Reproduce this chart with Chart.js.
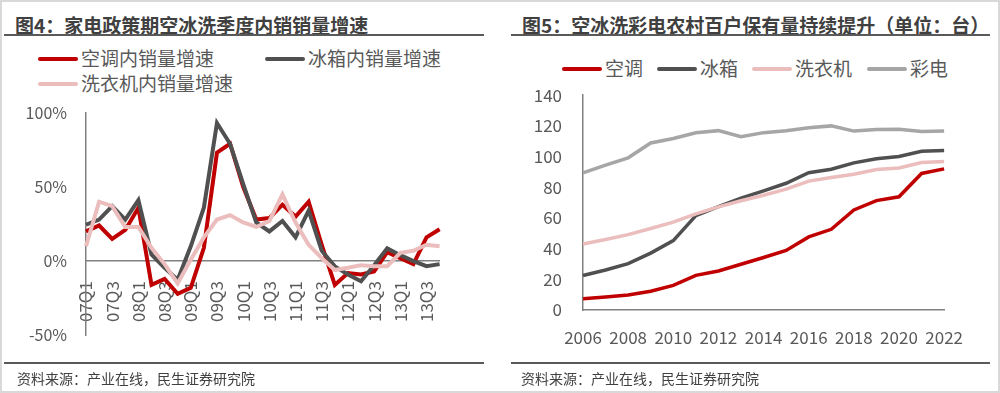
<!DOCTYPE html>
<html>
<head>
<meta charset="utf-8">
<script src="https://cdn.jsdelivr.net/npm/chart.js@4.4.1/dist/chart.umd.min.js"></script>
<style>
  html, body { margin:0; padding:0; }
  body { width:1000px; height:393px; position:relative; background:#fff; overflow:hidden;
         font-family:"Noto Sans CJK SC","Noto Sans",sans-serif; }
  .frame { position:absolute; left:0; top:0; width:996px; height:389px; border:2px solid #d9d9d9; }
  .title { position:absolute; top:12px; font-size:19px; font-weight:bold; color:#404040; white-space:nowrap; line-height:26px; }
  .rule { position:absolute; height:2px; background:#595959; }
  .leg { position:absolute; font-size:19px; color:#595959; white-space:nowrap; line-height:24px; }
  .leg i { display:inline-block; width:40px; height:4px; border-radius:2px; vertical-align:middle; margin-right:3px; position:relative; top:-2px; }
  .src { position:absolute; top:368px; font-size:14px; color:#404040; white-space:nowrap; line-height:20px; }
  canvas { position:absolute; }
</style>
</head>
<body>
<div class="frame"></div>

<div class="title" style="left:15px">图4：家电政策期空冰洗季度内销销量增速</div>
<div class="rule" style="left:4px;width:480px;top:34px"></div>
<div class="leg" style="left:38px;top:46px"><i style="background:#C00000"></i>空调内销量增速</div>
<div class="leg" style="left:265px;top:46px"><i style="background:#505050"></i>冰箱内销量增速</div>
<div class="leg" style="left:38px;top:71px"><i style="background:#EBBDBD"></i>洗衣机内销量增速</div>
<canvas id="c1" width="480" height="280" style="left:0;top:84px"></canvas>
<div class="rule" style="left:4px;width:480px;top:362px"></div>
<div class="src" style="left:17px">资料来源：产业在线，民生证券研究院</div>

<div class="title" style="left:522px">图5：空冰洗彩电农村百户保有量持续提升（单位：台）</div>
<div class="rule" style="left:511px;width:479px;top:34px"></div>
<div class="leg" style="left:562px;top:56px"><i style="background:#C00000"></i>空调</div>
<div class="leg" style="left:657px;top:56px"><i style="background:#505050"></i>冰箱</div>
<div class="leg" style="left:752px;top:56px"><i style="background:#EBBDBD"></i>洗衣机</div>
<div class="leg" style="left:867px;top:56px"><i style="background:#A6A6A6"></i>彩电</div>
<canvas id="c2" width="480" height="291" style="left:500px;top:64px"></canvas>
<div class="rule" style="left:511px;width:479px;top:362px"></div>
<div class="src" style="left:521px">资料来源：产业在线，民生证券研究院</div>

<script>
// ---- 图4 数据：季度内销量同比增速 (%) ----
const quarters = ["07Q1","07Q2","07Q3","07Q4","08Q1","08Q2","08Q3","08Q4",
                  "09Q1","09Q2","09Q3","09Q4","10Q1","10Q2","10Q3","10Q4",
                  "11Q1","11Q2","11Q3","11Q4","12Q1","12Q2","12Q3","12Q4",
                  "13Q1","13Q2","13Q3","13Q4"];
const acGrowth     = [20,24,15,21,36,-16,-12,-22,-18,9,73,79,50,28,29,38,30,40,11,-16,-8,-9,-7,6,2,-2,16,21.5];
const fridgeGrowth = [24.5,28,37,28,41,4.5,-4.5,-12.5,10,36,93,79,52,26,20,27,16,34,7,-3.5,-9,-13.5,-2.7,8.6,4,0,-3.4,-2];
const washerGrowth = [10,40,37,23,23,9,-2,-15,1,16,28,31,26,23,27,45,26,11,2,-6,-4.5,-2.7,-3.4,-3.4,5.6,7,11,10];
const pctTicks = [-50,0,50,100];

// ---- 图5 数据：农村居民每百户保有量 (台) ----
const years    = ["2006","2007","2008","2009","2010","2011","2012","2013","2014","2015","2016","2017","2018","2019","2020","2021","2022"];
const acOwn     = [7.3,8.5,9.8,12.2,16.0,22.6,25.4,29.8,34.2,38.8,47.6,52.6,65.2,71.3,73.8,89.0,92.0];
const fridgeOwn = [22.5,26.1,30.2,37.1,45.2,61.5,67.3,72.9,77.6,82.6,89.5,91.7,95.9,98.6,100.1,103.5,103.9];
const washerOwn = [43.0,45.9,49.1,53.1,57.3,62.6,67.2,71.2,74.8,78.8,84.0,86.3,88.5,91.6,92.6,96.1,96.8];
const tvOwn     = [89.4,94.4,99.2,108.9,111.8,115.5,116.9,112.9,115.6,116.9,118.8,120.0,116.6,117.6,117.8,116.4,116.6];

const RED = "#C00000", DARK = "#505050", PINK = "#EBBDBD", GREY = "#A6A6A6";
const AXIS = "#808080", TXT = "#595959";
const FONT = '"Noto Sans CJK SC", "Noto Sans", sans-serif';

function line(data, color, w){
  return { data, borderColor: color, backgroundColor: color, borderWidth: w,
           pointRadius: 0, tension: 0, fill: false };
}

// 图4  (y 轴标签的 padding 会撑开上下留白，画布已按此放大)
new Chart(document.getElementById("c1"), {
  type: "line",
  data: {
    labels: quarters,
    datasets: [
      line(washerGrowth, PINK, 4),
      line(fridgeGrowth, DARK, 4),
      line(acGrowth, RED, 4)
    ]
  },
  options: {
    responsive: false, animation: false,
    layout: { padding: { top: 0, bottom: 0, right: 27, left: 0 } },
    plugins: { legend: { display: false }, tooltip: { enabled: false } },
    scales: {
      x: {
        position: { y: 0 },
        grid: { display: false, drawTicks: false },
        border: { display: true, color: AXIS, width: 1.5 },
        ticks: {
          autoSkip: false, minRotation: 90, maxRotation: 90, padding: 20,
          color: TXT, font: { family: FONT, size: 17 },
          callback: (v, i) => i % 2 === 0 ? quarters[i] : ""
        }
      },
      y: {
        min: -50, max: 100,
        afterFit: s => { s.width = 86; },
        afterBuildTicks: s => { s.ticks = pctTicks.map(v => ({ value: v })); },
        grid: { display: false, drawTicks: false },
        border: { display: true, color: AXIS, width: 1.5 },
        ticks: { padding: 19, color: TXT, font: { family: FONT, size: 16 }, callback: v => v + "%" }
      }
    }
  }
});

// 图5
new Chart(document.getElementById("c2"), {
  type: "line",
  data: {
    labels: years,
    datasets: [
      line(tvOwn, GREY, 3.5),
      line(washerOwn, PINK, 3.5),
      line(fridgeOwn, DARK, 3.5),
      line(acOwn, RED, 3.5)
    ]
  },
  options: {
    responsive: false, animation: false,
    layout: { padding: { top: 0, bottom: 0, right: 28, left: 0 } },
    plugins: { legend: { display: false }, tooltip: { enabled: false } },
    scales: {
      x: {
        afterFit: s => { s.height = 45; },
        grid: { display: false, drawTicks: false },
        border: { display: true, color: AXIS, width: 1.5 },
        ticks: {
          autoSkip: false, maxRotation: 0, padding: 17,
          color: TXT, font: { family: FONT, size: 17 },
          callback: (v, i) => i % 2 === 0 ? years[i] : ""
        }
      },
      y: {
        min: 0, max: 140,
        afterFit: s => { s.width = 83; },
        grid: { display: false, drawTicks: false },
        border: { display: true, color: AXIS, width: 1.5 },
        ticks: { stepSize: 20, padding: 21, color: TXT, font: { family: FONT, size: 17 } }
      }
    }
  }
});
</script>
</body>
</html>
